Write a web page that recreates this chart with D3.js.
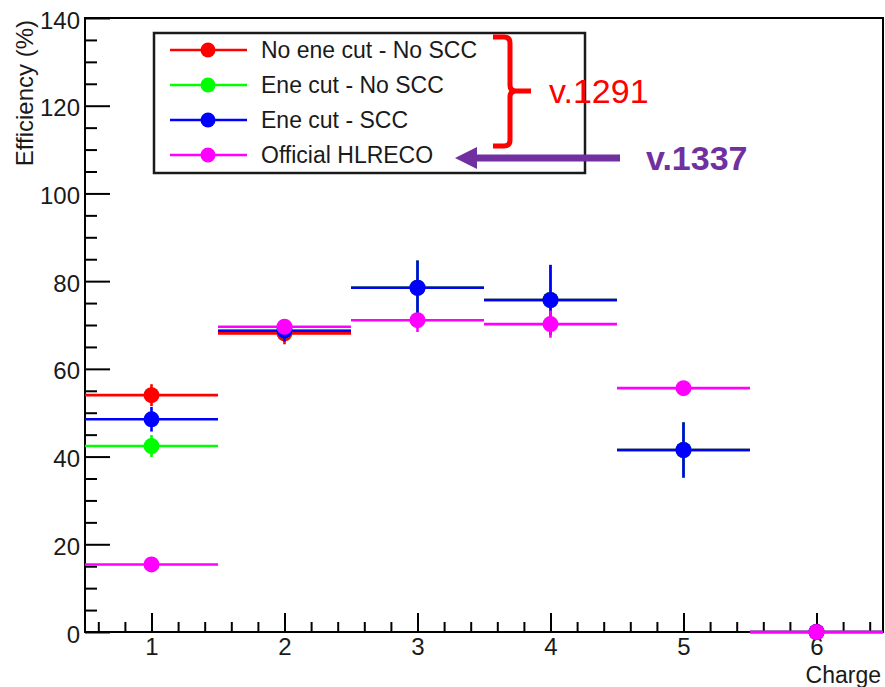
<!DOCTYPE html>
<html>
<head>
<meta charset="utf-8">
<script src="https://cdn.jsdelivr.net/npm/d3@7"></script>
<style>
  html, body { margin: 0; padding: 0; background: #fff; }
  svg { display: block; font-family: "Liberation Sans", Arial, Helvetica, sans-serif; }
</style>
</head>
<body>
<svg id="chart" width="885" height="687"></svg>
<script>
// Efficiency vs. charge, one series per reconstruction setting
const charges = [1, 2, 3, 4, 5, 6];

const noCutNoScc     = [54.0, 68.1, 78.5, 75.7, 41.5, 0];
const noCutNoSccErr  = [2.5, 2.5, 6.2, 8.0, 6.3, 0];

const eneCutNoScc    = [42.4, 68.7, 78.5, 75.7, 41.5, 0];
const eneCutNoSccErr = [2.5, 2.5, 6.2, 8.0, 6.3, 0];

const eneCutScc      = [48.5, 68.7, 78.5, 75.7, 41.5, 0];
const eneCutSccErr   = [2.8, 2.5, 6.2, 8.0, 6.3, 0];

const officialHlreco        = [15.4, 69.6, 71.1, 70.2, 55.6, 0];
const officialHlrecoErrLow  = [1.0, 1.0, 2.7, 3.1, 1.2, 0];
const officialHlrecoErrHigh = [1.0, 1.0, 1.0, 3.1, 1.2, 0];

const binHalfWidth = 0.5;

const seriesNames  = ["No ene cut - No SCC", "Ene cut - No SCC", "Ene cut - SCC", "Official HLRECO"];
const seriesColors = ["#ff0000", "#00ff00", "#0000ff", "#ff00ff"];

const xTicks = [1, 2, 3, 4, 5, 6];
const yTicks = [0, 20, 40, 60, 80, 100, 120, 140];

const xTitle = "Charge";
const yTitle = "Efficiency (%)";

const bracketLabel = "v.1291";
const arrowLabel   = "v.1337";

const series = [
  { values: noCutNoScc,   lo: noCutNoSccErr,   hi: noCutNoSccErr },
  { values: eneCutNoScc,  lo: eneCutNoSccErr,  hi: eneCutNoSccErr },
  { values: eneCutScc,    lo: eneCutSccErr,    hi: eneCutSccErr },
  { values: officialHlreco, lo: officialHlrecoErrLow, hi: officialHlrecoErrHigh }
].map((s, i) => ({ ...s, name: seriesNames[i], color: seriesColors[i] }));

const svg = d3.select("#chart");
const frame = { left: 85, right: 883, top: 18, bottom: 632 };

const x = d3.scaleLinear().domain([0.5, 6.5]).range([frame.left, frame.right]);
const y = d3.scaleLinear().domain([0, 140]).range([frame.bottom, frame.top]);

const FONT = 24;

// frame box
svg.append("rect")
  .attr("x", frame.left).attr("y", frame.top)
  .attr("width", frame.right - frame.left).attr("height", frame.bottom - frame.top)
  .attr("fill", "none").attr("stroke", "#000").attr("stroke-width", 2);

// minor ticks (inside the frame)
const yMinor = d3.range(0, 141, 5).filter(v => v % 20 !== 0);
svg.append("g").attr("transform", `translate(${frame.left},0)`)
  .call(d3.axisLeft(y).tickValues(yMinor).tickSize(-12).tickFormat(""))
  .call(g => g.select(".domain").remove())
  .call(g => g.selectAll("line").attr("stroke", "#000").attr("stroke-width", 2));

const xMinor = d3.range(0.6, 6.5, 0.2).filter(v => Math.abs(v - Math.round(v)) > 1e-6);
svg.append("g").attr("transform", `translate(0,${frame.bottom})`)
  .call(d3.axisBottom(x).tickValues(xMinor).tickSize(-10).tickFormat(""))
  .call(g => g.select(".domain").remove())
  .call(g => g.selectAll("line").attr("stroke", "#000").attr("stroke-width", 2));

// major ticks with labels
svg.append("g").attr("transform", `translate(${frame.left},0)`)
  .call(d3.axisLeft(y).tickValues(yTicks).tickSize(-25).tickPadding(5).tickFormat(d3.format("d")))
  .call(g => g.select(".domain").remove())
  .call(g => g.selectAll("line").attr("stroke", "#000").attr("stroke-width", 2))
  .call(g => g.selectAll("text")
    .attr("font-size", FONT).attr("font-family", "Liberation Sans, Arial, sans-serif")
    .attr("fill", "#1a1a1a").attr("dy", "0.42em"));

svg.append("g").attr("transform", `translate(0,${frame.bottom})`)
  .call(d3.axisBottom(x).tickValues(xTicks).tickSize(-19).tickPadding(6).tickFormat(d3.format("d")))
  .call(g => g.select(".domain").remove())
  .call(g => g.selectAll("line").attr("stroke", "#000").attr("stroke-width", 2))
  .call(g => g.selectAll("text")
    .attr("font-size", FONT).attr("font-family", "Liberation Sans, Arial, sans-serif")
    .attr("fill", "#1a1a1a").attr("y", 6).attr("dy", "0.72em"));

// axis titles
svg.append("text")
  .attr("x", frame.right - 2).attr("y", 683)
  .attr("text-anchor", "end").attr("font-size", 23).attr("fill", "#1a1a1a")
  .text(xTitle);

svg.append("text")
  .attr("transform", `translate(33,${frame.top + 2}) rotate(-90)`)
  .attr("text-anchor", "end").attr("font-size", FONT).attr("fill", "#1a1a1a")
  .text(yTitle);

// data: horizontal bin-width bars, vertical error bars, markers
const plot = svg.append("g");
series.forEach(s => {
  const pts = charges.map((c, i) => ({ c, v: s.values[i], lo: s.lo[i], hi: s.hi[i] }));
  const g = plot.append("g");
  g.selectAll("line.h").data(pts).join("line")
    .attr("x1", d => x(d.c - binHalfWidth)).attr("x2", d => x(d.c + binHalfWidth))
    .attr("y1", d => y(d.v)).attr("y2", d => y(d.v))
    .attr("stroke", s.color).attr("stroke-width", 2.6);
  g.selectAll("line.v").data(pts).join("line")
    .attr("x1", d => x(d.c)).attr("x2", d => x(d.c))
    .attr("y1", d => y(d.v - d.lo)).attr("y2", d => y(d.v + d.hi))
    .attr("stroke", s.color).attr("stroke-width", 2.6);
  g.selectAll("circle").data(pts).join("circle")
    .attr("cx", d => x(d.c)).attr("cy", d => y(d.v)).attr("r", 8)
    .attr("fill", s.color);
});

// legend
const legend = svg.append("g");
legend.append("rect")
  .attr("x", 154).attr("y", 33).attr("width", 431).attr("height", 140)
  .attr("fill", "#fff").attr("stroke", "#1a1a1a").attr("stroke-width", 2.5);
const rowY = [50, 85, 120, 155];
series.forEach((s, i) => {
  const r = legend.append("g").attr("transform", `translate(0,${rowY[i]})`);
  r.append("line").attr("x1", 170).attr("x2", 247).attr("y1", 0).attr("y2", 0)
    .attr("stroke", s.color).attr("stroke-width", 2.6);
  r.append("circle").attr("cx", 208).attr("cy", 0).attr("r", 7.5).attr("fill", s.color);
  r.append("text").attr("x", 261).attr("y", 0).attr("dy", "0.36em")
    .attr("font-size", 23).attr("fill", "#1a1a1a").text(s.name);
});

// red brace grouping the first three entries
svg.append("path")
  .attr("d", "M493,37 L504,37 Q510,37 510,43 L510,85 Q510,91 516,91 L531,91 M516,91 Q510,91 510,97 L510,140 Q510,146 504,146 L493,146")
  .attr("fill", "none").attr("stroke", "#ff0000").attr("stroke-width", 5)
  .attr("stroke-linejoin", "round");
svg.append("text")
  .attr("x", 549).attr("y", 103).attr("font-size", 34).attr("fill", "#ff0000")
  .text(bracketLabel);

// purple arrow pointing at the official entry
const purple = "#7030a0";
svg.append("line")
  .attr("x1", 620).attr("x2", 472).attr("y1", 158).attr("y2", 158)
  .attr("stroke", purple).attr("stroke-width", 7);
svg.append("path")
  .attr("d", "M455,158 L477,147 L477,169 Z")
  .attr("fill", purple);
svg.append("text")
  .attr("x", 646).attr("y", 170).attr("font-size", 34).attr("font-weight", "bold")
  .attr("fill", purple).text(arrowLabel);
</script>
</body>
</html>
